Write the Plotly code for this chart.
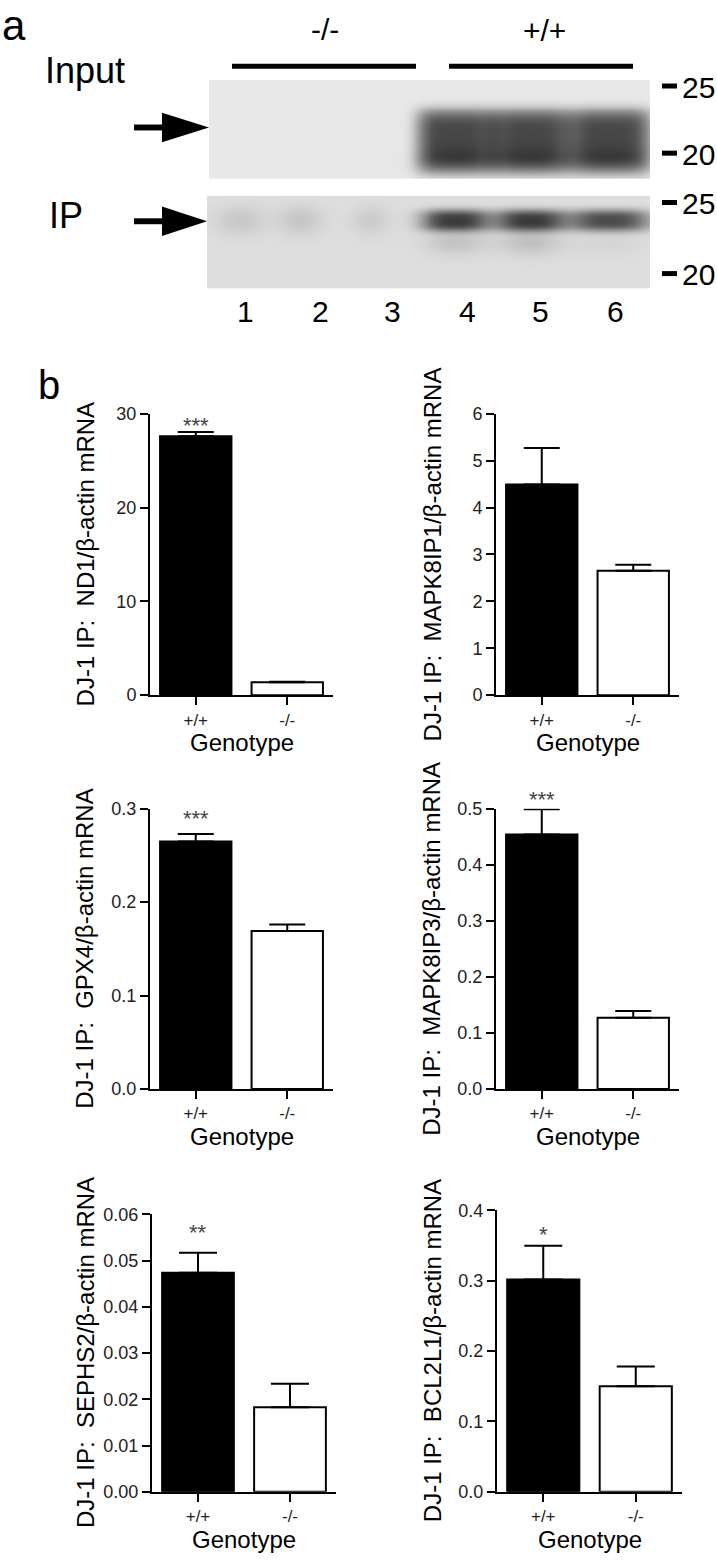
import numpy as np
import plotly.graph_objects as go

W, H = 717, 1566
FONT = "Liberation Sans, Arial, Helvetica, sans-serif"

# ---------------- data ----------------
genotypes = ["+/+", "-/-"]
genes = ["ND1", "MAPK8IP1", "GPX4", "MAPK8IP3", "SEPHS2", "BCL2L1"]

nd1_mean = [27.6, 1.37]
nd1_sem = [0.45, 0.05]
mapk8ip1_mean = [4.49, 2.65]
mapk8ip1_sem = [0.78, 0.13]
gpx4_mean = [0.265, 0.169]
gpx4_sem = [0.008, 0.007]
mapk8ip3_mean = [0.454, 0.127]
mapk8ip3_sem = [0.045, 0.012]
sephs2_mean = [0.0474, 0.0183]
sephs2_sem = [0.0043, 0.0051]
bcl2l1_mean = [0.302, 0.150]
bcl2l1_sem = [0.048, 0.028]

significance = ["***", "", "***", "***", "**", "*"]

nd1_ticks = [0, 10, 20, 30]
mapk8ip1_ticks = [0, 1, 2, 3, 4, 5, 6]
gpx4_ticks = [0.0, 0.1, 0.2, 0.3]
mapk8ip3_ticks = [0.0, 0.1, 0.2, 0.3, 0.4, 0.5]
sephs2_ticks = [0.00, 0.01, 0.02, 0.03, 0.04, 0.05, 0.06]
bcl2l1_ticks = [0.0, 0.1, 0.2, 0.3, 0.4]
tick_formats = ["d", "d", ".1f", ".1f", ".2f", ".1f"]

# western blot (panel a)
lanes = ["1", "2", "3", "4", "5", "6"]
lane_genotype = ["-/-", "+/+"]
input_band_intensity = [0.0, 0.0, 0.0, 0.84, 0.84, 0.84]
ip_band_intensity = [0.12, 0.13, 0.10, 0.84, 0.84, 0.76]
ip_smear_intensity = [0.0, 0.0, 0.0, 0.14, 0.16, 0.05]
marker_labels = ["25", "20"]

means = [nd1_mean, mapk8ip1_mean, gpx4_mean, mapk8ip3_mean, sephs2_mean, bcl2l1_mean]
sems = [nd1_sem, mapk8ip1_sem, gpx4_sem, mapk8ip3_sem, sephs2_sem, bcl2l1_sem]
ticks = [nd1_ticks, mapk8ip1_ticks, gpx4_ticks, mapk8ip3_ticks, sephs2_ticks, bcl2l1_ticks]

# ---------------- layout helpers (pixel boxes) ----------------
def px(x):
    return x / W

def py(y):
    return 1 - y / H

# [x0, x1, ytop, ybottom] in pixels
boxes = [
    [150, 333, 409, 694],
    [496, 679, 409, 694],
    [150, 333, 809, 1093],
    [496, 679, 809, 1093],
    [152, 336, 1220, 1501],
    [497, 682, 1216, 1501],
]
ytitle_x = [85, 432, 85, 432, 85, 432]
cap_half = [18, 18, 18, 18, 19, 19]
star_shift = [7, 0, 15, 10, 20, 11]

fig = go.Figure()
layout = dict(
    width=W, height=H,
    margin=dict(l=0, r=0, t=0, b=0),
    paper_bgcolor="white", plot_bgcolor="rgba(0,0,0,0)",
    showlegend=False,
    font=dict(family=FONT, color="black"),
)
annotations = []
shapes = []

def text(x, y, s, size, xanchor="center", yanchor="middle", angle=0, color="black"):
    annotations.append(dict(
        x=px(x), y=py(y), xref="paper", yref="paper", text=s, showarrow=False,
        xanchor=xanchor, yanchor=yanchor, textangle=angle,
        font=dict(size=size, family=FONT, color=color),
    ))

# ---------------- bar panels ----------------
for i in range(6):
    k = i + 1
    x0, x1, yt, yb = boxes[i]
    xa = "x" if k == 1 else f"x{k}"
    ya = "y" if k == 1 else f"y{k}"
    fig.add_trace(go.Bar(
        x=genotypes, y=means[i], xaxis=xa, yaxis=ya, width=0.78,
        marker=dict(color=["black", "white"], line=dict(color="black", width=2)),
        error_y=dict(type="data", symmetric=False, array=sems[i], arrayminus=[0, 0],
                     color="black", thickness=2, width=cap_half[i]),
        hoverinfo="skip",
    ))
    tv = ticks[i]
    layout["xaxis" if k == 1 else f"xaxis{k}"] = dict(
        domain=[px(x0), px(x1)], anchor=ya, type="category", range=[-0.5, 1.5],
        showline=True, linecolor="black", linewidth=2, ticks="outside", ticklen=8,
        tickwidth=2, tickcolor="black", showgrid=False, zeroline=False,
        tickfont=dict(size=17, family=FONT, color="#222"), fixedrange=True,
    )
    layout["yaxis" if k == 1 else f"yaxis{k}"] = dict(
        domain=[py(yb), py(yt)], anchor=xa, range=[tv[0], tv[-1]],
        tickvals=tv, tickformat=tick_formats[i],
        showline=True, linecolor="black", linewidth=2, ticks="outside", ticklen=8,
        tickwidth=2, tickcolor="black", showgrid=False, zeroline=False,
        tickfont=dict(size=18, family=FONT, color="#222"), fixedrange=True,
    )
    text(ytitle_x[i], (yt + yb) / 2, "DJ-1 IP:\u00a0\u00a0" + genes[i] + "/\u03b2-actin mRNA",
         24, angle=-90)
    text((x0 + x1) / 2, yb + 48, "Genotype", 24)
    if significance[i]:
        annotations.append(dict(
            x=genotypes[0], y=means[i][0] + sems[i][0], xref=xa, yref=ya,
            text=significance[i], showarrow=False, yanchor="middle", yshift=star_shift[i],
            font=dict(size=22, family=FONT, color="#444"),
        ))

# ---------------- western blot (panel a) ----------------
lane_cx = [240, 300, 370, 456, 531, 610]
lane_hw_input = [35, 35, 35, 40, 40, 42]
lane_hw_ip = [26, 22, 20, 35, 35, 41]

def blot(xr, yr, bands, base):
    xs = np.arange(xr[0], xr[1] + 1, 1.0)
    ys = np.arange(yr[0], yr[1] + 1, 1.0)
    XX, YY = np.meshgrid(xs, ys)
    Z = np.full(XX.shape, base)
    for (cx, hw, cy, hh, inten, p) in bands:
        Z += inten * np.exp(-np.abs((XX - cx) / hw) ** p - np.abs((YY - cy) / hh) ** p)
    return xs, ys, np.clip(Z, 0, 1)

in_bands = []
for j in range(6):
    in_bands.append((lane_cx[j], lane_hw_input[j], 133, 33, input_band_intensity[j], 5))
    in_bands.append((lane_cx[j], lane_hw_input[j] - 3, 152, 13, input_band_intensity[j] * 0.12, 2))
ip_bands = []
for j in range(6):
    ip_bands.append((lane_cx[j], lane_hw_ip[j], 213, 11 if j >= 3 else 15, ip_band_intensity[j], 3 if j >= 3 else 2))
    ip_bands.append((lane_cx[j], lane_hw_ip[j] - 4, 235, 14, ip_smear_intensity[j], 2))

blot_scale = [[0, "rgb(232,232,232)"], [1, "rgb(40,40,40)"]]
for k, (xr, yr, bands, base) in zip(
        (7, 8),
        [((209, 650), (71, 171), in_bands, 0.0), ((207, 650), (188, 282), ip_bands, 0.05)]):
    xs, ys, Z = blot(xr, yr, bands, base)
    fig.add_trace(go.Heatmap(
        x=xs, y=ys, z=Z, xaxis=f"x{k}", yaxis=f"y{k}", colorscale=blot_scale,
        zmin=0, zmax=1, showscale=False, hoverinfo="skip",
    ))
    layout[f"xaxis{k}"] = dict(domain=[px(xr[0]), px(xr[1])], range=[xr[0] - 0.5, xr[1] + 0.5],
                               visible=False, anchor=f"y{k}", fixedrange=True)
    layout[f"yaxis{k}"] = dict(domain=[py(yr[1]), py(yr[0])], range=[yr[1] + 0.5, yr[0] - 0.5],
                               visible=False, anchor=f"x{k}", fixedrange=True)

def path_px(points):
    return "M " + " L ".join(f"{px(x):.5f},{py(y):.5f}" for x, y in points) + " Z"

# arrows
for (tipx, tipy) in [(209, 119), (207, 214)]:
    shapes.append(dict(type="path", xref="paper", yref="paper",
                       path=path_px([(134, tipy - 3), (166, tipy - 3), (166, tipy + 3), (134, tipy + 3)]),
                       fillcolor="black", line=dict(width=0)))
    shapes.append(dict(type="path", xref="paper", yref="paper",
                       path=path_px([(162, tipy - 15), (tipx, tipy), (162, tipy + 15)]),
                       fillcolor="black", line=dict(width=0)))

# genotype bars
for (a, b) in [(232, 416), (449, 633)]:
    shapes.append(dict(type="line", xref="paper", yref="paper",
                       x0=px(a), x1=px(b), y0=py(57), y1=py(57),
                       line=dict(color="black", width=5)))
text(325, 20, lane_genotype[0], 30)
text(544, 21, lane_genotype[1], 30)

# molecular weight markers
for (yy, lab) in [(77, marker_labels[0]), (145, marker_labels[1]),
                  (195, marker_labels[0]), (267, marker_labels[1])]:
    shapes.append(dict(type="line", xref="paper", yref="paper",
                       x0=px(662), x1=px(677), y0=py(yy), y1=py(yy),
                       line=dict(color="black", width=5)))
    text(680, yy + 1, lab, 30, xanchor="left")

text(85, 61, "Input", 36)
text(66, 208, "IP", 36)
lane_num_x = [245, 320, 392, 467, 540, 615]
for j, lab in enumerate(lanes):
    text(lane_num_x[j], 305, lab, 30)

text(0, 16, "a", 42, xanchor="left")
text(36, 380, "b", 40, xanchor="left")

layout["annotations"] = annotations
layout["shapes"] = shapes
fig.update_layout(**layout)
fig.write_html(
    "out.html",
    config={"displayModeBar": False, "staticPlot": True},
    post_script="document.body.style.margin='0';document.body.style.padding='0';"
                "document.documentElement.style.overflow='hidden';document.body.style.overflow='hidden';",
)
